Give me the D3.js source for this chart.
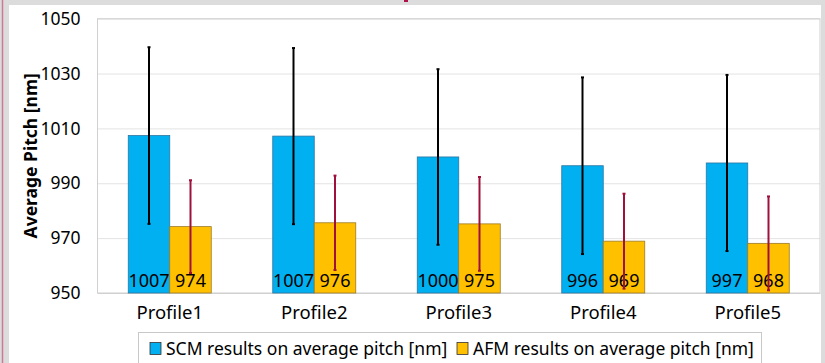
<!DOCTYPE html>
<html>
<head>
<meta charset="utf-8">
<script src="https://cdn.jsdelivr.net/npm/d3@7"></script>
<style>
  body { margin: 0; background: #dcdcdc; }
  svg { display: block; font-family: "Noto Sans", "Open Sans", sans-serif; }
</style>
</head>
<body>
<div id="chart"></div>
<script>
// Chart data
const profiles = ["Profile1", "Profile2", "Profile3", "Profile4", "Profile5"];
const scmValues = [1007.4, 1007.2, 999.6, 996.4, 997.4];
const afmValues = [974.2, 975.6, 975.2, 968.9, 968.1];
const scmErrors = [32.2, 32.1, 32.0, 32.2, 32.1];
const afmErrors = [16.9, 17.2, 17.1, 17.3, 17.1];
const yTicks = [950, 970, 990, 1010, 1030, 1050];
const seriesNames = ["SCM results on average pitch [nm]", "AFM results on average pitch [nm]"];

const W = 825, H = 363;
const margin = { top: 18.7, right: 5, bottom: 70, left: 97.5 };
const width = 820 - margin.left;
const height = 293 - margin.top;

const svg = d3.select("#chart")
    .append("svg")
    .attr("width", W)
    .attr("height", H);

// page frame
svg.append("rect").attr("width", W).attr("height", H).attr("fill", "#dcdcdc");
svg.append("rect").attr("x", 9).attr("y", 5).attr("width", 812).attr("height", H).attr("fill", "#fff");
svg.append("line").attr("x1", 2.5).attr("x2", 2.5).attr("y1", 0).attr("y2", H)
    .attr("stroke", "#c97b93").attr("stroke-width", 1.5);
svg.append("rect").attr("x", 404).attr("y", 0).attr("width", 4).attr("height", 2).attr("fill", "#b0104a");

const g = svg.append("g").attr("transform", `translate(${margin.left},${margin.top})`);

const x0 = d3.scaleBand().domain(profiles).range([0, width]);
const bw = 41.5;
const x1 = d3.scaleBand().domain(["scm", "afm"]).range([x0.bandwidth() / 2 - bw, x0.bandwidth() / 2 + bw]);
const y = d3.scaleLinear().domain([950, 1050]).range([height, 0]);

// gridlines
g.append("g")
    .call(d3.axisLeft(y).tickValues(yTicks).tickSize(-width).tickFormat(""))
    .call(a => a.select(".domain").remove())
    .selectAll(".tick line")
    .attr("stroke", "#e3e3e3");

// plot border
g.append("rect").attr("width", width).attr("height", height)
    .attr("fill", "none").attr("stroke", "#d0d0d0").attr("stroke-width", 1);

// y tick labels
g.append("g")
    .call(d3.axisLeft(y).tickValues(yTicks).tickSize(0).tickPadding(17).tickFormat(d3.format("d")))
    .call(a => a.select(".domain").remove())
    .selectAll("text")
    .attr("font-family", "Noto Sans")
    .attr("font-size", 17.5)
    .attr("fill", "#000");

// x labels
g.append("g")
    .attr("transform", `translate(0,${height})`)
    .call(d3.axisBottom(x0).tickSize(0).tickPadding(13))
    .call(a => a.select(".domain").attr("stroke", "#d0d0d0"))
    .selectAll("text")
    .attr("font-family", "Noto Sans")
    .attr("font-size", 18.5)
    .attr("fill", "#000");

// y title
svg.append("text")
    .attr("transform", `translate(37,${margin.top + height / 2}) rotate(-90)`)
    .attr("text-anchor", "middle")
    .attr("font-size", 17.5)
    .attr("font-weight", "bold")
    .text("Average Pitch [nm]");

const rows = profiles.map((p, i) => ({
    profile: p,
    bars: [
        { key: "scm", value: scmValues[i], err: scmErrors[i] },
        { key: "afm", value: afmValues[i], err: afmErrors[i] }
    ]
}));

const fill = { scm: "#00b0f0", afm: "#ffc000" };
const edge = { scm: "#2e75a0", afm: "#9c7a2a" };
const errColor = { scm: "#000", afm: "#a0103c" };

const groups = g.selectAll(".grp")
    .data(rows)
    .enter()
    .append("g")
    .attr("transform", d => `translate(${x0(d.profile)},0)`);

groups.selectAll("rect")
    .data(d => d.bars)
    .enter()
    .append("rect")
    .attr("x", d => x1(d.key))
    .attr("width", x1.bandwidth())
    .attr("y", d => y(d.value))
    .attr("height", d => height - y(d.value))
    .attr("fill", d => fill[d.key])
    .attr("stroke", d => edge[d.key])
    .attr("stroke-width", 0.8);

// value labels
groups.selectAll(".lbl")
    .data(d => d.bars)
    .enter()
    .append("text")
    .attr("x", d => x1(d.key) + x1.bandwidth() / 2)
    .attr("y", height - 6)
    .attr("text-anchor", "middle")
    .attr("font-size", 18)
    .attr("fill", "#000")
    .text(d => Math.round(d.value));

// error bars
const eb = groups.selectAll(".err")
    .data(d => d.bars)
    .enter()
    .append("g")
    .attr("stroke", d => errColor[d.key]);

eb.append("line")
    .attr("x1", d => x1(d.key) + x1.bandwidth() / 2)
    .attr("x2", d => x1(d.key) + x1.bandwidth() / 2)
    .attr("y1", d => y(d.value + d.err))
    .attr("y2", d => y(d.value - d.err))
    .attr("stroke-width", 2);

eb.selectAll(".cap")
    .data(d => [d.value + d.err, d.value - d.err].map(v => ({ key: d.key, v })))
    .enter()
    .append("line")
    .attr("x1", d => x1(d.key) + x1.bandwidth() / 2 - 1.5)
    .attr("x2", d => x1(d.key) + x1.bandwidth() / 2 + 1.5)
    .attr("y1", d => y(d.v))
    .attr("y2", d => y(d.v))
    .attr("stroke-width", 2);

// legend
const legend = svg.append("g");
legend.append("rect")
    .attr("x", 138.5).attr("y", 332.5).attr("width", 623).attr("height", 40)
    .attr("fill", "#fff").attr("stroke", "#c8c8c8");

const items = [
    { key: "scm", name: seriesNames[0], x: 150 },
    { key: "afm", name: seriesNames[1], x: 457 }
];
items.forEach(it => {
    legend.append("rect")
        .attr("x", it.x).attr("y", 342.5).attr("width", 11).attr("height", 12)
        .attr("fill", fill[it.key]).attr("stroke", "#333").attr("stroke-width", 0.8);
    legend.append("text")
        .attr("x", it.x + 16).attr("y", 355)
        .attr("font-size", 17.5)
        .attr("fill", "#000")
        .text(it.name);
});
</script>
</body>
</html>
